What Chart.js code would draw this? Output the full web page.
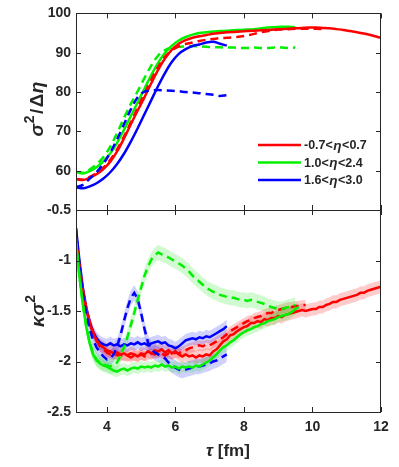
<!DOCTYPE html>
<html><head><meta charset="utf-8">
<script src="https://cdn.jsdelivr.net/npm/chart.js@4.4.1/dist/chart.umd.min.js"></script>
<style>
html,body{margin:0;padding:0;background:#fff;}
#wrap{position:relative;width:399px;height:467px;overflow:hidden;}
canvas{position:absolute;left:0;top:0;}
</style></head>
<body><div id="wrap"><canvas id="cTop" width="399" height="467"></canvas><canvas id="cBot" width="399" height="467"></canvas></div>
<script>
// ---------- DATA ----------
const legendLabels = ['-0.7<η<0.7', '1.0<η<2.4', '1.6<η<3.0'];

// Top panel: sigma^2 / Delta eta
const tauTop = [3.1,3.3,3.5,3.7,3.9,4.1,4.3,4.5,4.7,4.9,5.1,5.3,5.5,5.7,5.9,6.1,6.3,6.5,6.7,6.9,7.1,7.3,7.5,7.7,7.9,8.1,8.3,8.5,8.7,8.9,9.1,9.3,9.5,9.7,9.9,10.1,10.3,10.5,10.7,10.9,11.1,11.3,11.5,11.7,11.9,12.0];
const sigRedSolid = [57.9,57.6,58.2,59.1,60.4,62.3,64.9,68.2,71.8,75.3,78.7,82.3,85.7,88.6,90.8,92.3,93.2,93.8,94.2,94.5,94.8,95.0,95.2,95.3,95.4,95.5,95.6,95.7,95.8,95.9,96.0,96.1,96.2,96.3,96.4,96.4,96.3,96.2,96.0,95.8,95.5,95.2,94.9,94.5,94.0,93.8];
const sigRedDash = [57.9,57.7,58.4,59.4,60.8,62.8,65.4,68.7,72.3,76.0,79.6,83.2,86.4,89.0,90.6,91.6,92.2,92.6,93.0,93.3,93.5,93.7,93.8,93.9,94.1,94.4,94.8,95.2,95.5,95.8,95.9,96.0,96.1,96.1,96.1,96.1,96.0];
const sigGreenSolid = [59.7,59.3,59.9,60.9,62.4,64.4,67.1,70.4,73.9,77.4,80.9,84.4,87.5,90.0,91.8,93.1,94.0,94.6,95.0,95.2,95.4,95.5,95.6,95.7,95.8,95.9,96.0,96.2,96.4,96.5,96.6,96.6,96.5];
const sigGreenDash = [59.7,59.5,60.3,61.6,63.5,66.1,69.6,73.4,77.0,80.2,83.6,86.8,89.3,90.7,91.3,91.5,91.6,91.7,91.6,91.5,91.4,91.4,91.3,91.3,91.2,91.2,91.3,91.2,91.2,91.3,91.3,91.2,91.3];
const sigBlueSolid = [55.8,55.5,56.0,56.8,58.0,59.6,61.7,64.3,67.4,70.8,74.4,78.0,81.6,84.9,87.7,89.7,90.9,91.7,92.1,92.6,92.8,92.3,91.8];
const sigBlueDash = [55.8,56.4,58.0,59.6,61.8,64.6,68.0,71.8,75.6,78.7,80.1,80.4,80.5,80.4,80.3,80.2,80.0,79.9,79.7,79.5,79.3,79.0,79.2];

// Bottom panel: kappa sigma^2
const tau = [3.1,3.2,3.3,3.4,3.5,3.6,3.7,3.8,3.9,4.0,4.1,4.2,4.3,4.4,4.5,4.6,4.7,4.8,4.9,5.0,5.1,5.2,5.3,5.4,5.5,5.6,5.7,5.8,5.9,6.0,6.1,6.2,6.3,6.4,6.5,6.6,6.7,6.8,6.9,7.0,7.1,7.2,7.3,7.4,7.5,7.6,7.7,7.8,7.9,8.0,8.1,8.2,8.3,8.4,8.5,8.6,8.7,8.8,8.9,9.0,9.1,9.2,9.3,9.4,9.5,9.6,9.7,9.8,9.9,10.0,10.1,10.2,10.3,10.4,10.5,10.6,10.7,10.8,10.9,11.0,11.1,11.2,11.3,11.4,11.5,11.6,11.7,11.8,11.9,12.0];
const kapRedSolid = [-0.78,-1.06,-1.30,-1.48,-1.62,-1.72,-1.79,-1.84,-1.86,
 -1.89,-1.90,-1.92,-1.91,-1.93,-1.92,-1.94,-1.92,-1.93,-1.95,
 -1.92,-1.93,-1.90,-1.92,-1.89,-1.90,-1.88,-1.91,-1.89,-1.92,
 -1.90,-1.93,-1.95,-1.93,-1.95,-1.94,-1.96,-1.94,-1.95,-1.93,
 -1.94,-1.90,-1.88,-1.84,-1.80,-1.78,-1.74,-1.73,-1.70,-1.68,
 -1.66,-1.65,-1.62,-1.62,-1.60,-1.61,-1.58,-1.59,-1.57,-1.57,
 -1.55,-1.56,-1.54,-1.53,-1.52,-1.51,-1.50,-1.49,-1.50,-1.49,
 -1.48,-1.48,-1.46,-1.46,-1.44,-1.43,-1.41,-1.41,-1.39,-1.38,
 -1.37,-1.36,-1.35,-1.34,-1.32,-1.32,-1.30,-1.29,-1.28,-1.27,
 -1.26];
const kapRedDash = [-0.78,-1.05,-1.29,-1.47,-1.61,-1.71,-1.79,-1.85,-1.88,
 -1.91,-1.93,-1.92,-1.94,-1.93,-1.95,-1.94,-1.96,-1.94,-1.95,
 -1.93,-1.95,-1.94,-1.92,-1.93,-1.91,-1.92,-1.94,-1.92,-1.93,
 -1.91,-1.92,-1.90,-1.89,-1.87,-1.86,-1.85,-1.84,-1.85,-1.83,
 -1.84,-1.82,-1.80,-1.78,-1.76,-1.73,-1.70,-1.68,-1.66,-1.64,
 -1.62,-1.60,-1.59,-1.57,-1.56,-1.55,-1.53,-1.52,-1.52,-1.50,
 -1.49,-1.48,-1.47,-1.46,-1.46,-1.45,-1.45,-1.44,-1.44];
const kapGreenSolid = [-0.81,-1.16,-1.44,-1.66,-1.82,-1.93,-1.99,-2.02,-2.04,
 -2.05,-2.07,-2.09,-2.10,-2.08,-2.07,-2.09,-2.07,-2.06,-2.07,
 -2.05,-2.06,-2.05,-2.06,-2.04,-2.05,-2.03,-2.05,-2.04,-2.06,
 -2.05,-2.07,-2.05,-2.06,-2.05,-2.06,-2.04,-2.05,-2.03,-2.01,
 -1.99,-1.96,-1.93,-1.89,-1.86,-1.84,-1.81,-1.79,-1.76,-1.73,
 -1.71,-1.69,-1.68,-1.66,-1.65,-1.63,-1.62,-1.60,-1.59,-1.58,
 -1.56,-1.55,-1.54,-1.53,-1.51,-1.48,-1.46];
const kapGreenDash = [-0.81,-1.15,-1.43,-1.65,-1.81,-1.92,-1.98,-2.01,-2.03,
 -2.04,-2.05,-2.04,-2.01,-1.94,-1.86,-1.76,-1.64,-1.52,-1.39,
 -1.27,-1.15,-1.06,-0.99,-0.95,-0.92,-0.94,-0.95,-0.97,-0.99,
 -1.01,-1.03,-1.05,-1.08,-1.11,-1.15,-1.18,-1.21,-1.24,-1.27,
 -1.29,-1.31,-1.32,-1.34,-1.35,-1.36,-1.37,-1.37,-1.38,-1.39,
 -1.39,-1.40,-1.39,-1.40,-1.41,-1.42,-1.43,-1.45,-1.46,-1.47,
 -1.48,-1.48,-1.47,-1.46,-1.45,-1.44];
const kapBlueSolid = [-0.68,-1.00,-1.27,-1.47,-1.61,-1.71,-1.77,-1.81,-1.83,
 -1.84,-1.82,-1.84,-1.83,-1.85,-1.83,-1.84,-1.82,-1.83,-1.81,
 -1.83,-1.82,-1.84,-1.82,-1.81,-1.80,-1.82,-1.81,-1.84,-1.85,
 -1.87,-1.85,-1.82,-1.79,-1.78,-1.77,-1.78,-1.76,-1.77,-1.75,
 -1.76,-1.74,-1.72,-1.70,-1.68,-1.65];
const kapBlueDash = [-0.68,-1.05,-1.33,-1.53,-1.68,-1.79,-1.86,-1.91,-1.95,
 -1.98,-1.97,-1.93,-1.85,-1.74,-1.60,-1.47,-1.37,-1.32,-1.38,
 -1.52,-1.68,-1.81,-1.88,-1.91,-1.93,-1.95,-1.97,-2.01,-2.04,
 -2.06,-2.08,-2.09,-2.08,-2.07,-2.06,-2.05,-2.05,-2.04,-2.03,
 -2.02,-2.00,-1.99,-1.97,-1.95,-1.93];
// band half-widths (uncertainty) per series
const errRedSolid = 0.065, errRedDash = 0.05, errGreenSolid = 0.055, errGreenDash = 0.075, errBlueSolid = 0.065, errBlueDash = 0.075;

// ---------- STYLE ----------
const RED = '#ff0000', GREEN = '#00f000', BLUE = '#0000ff';
const BAND = {r:'rgba(255,0,0,0.2)', g:'rgba(0,230,0,0.18)', b:'rgba(0,0,255,0.18)'};
const FONT = "'Liberation Sans', Arial, Helvetica, sans-serif";
const TXT = '#262626';
const DASH = [8, 5];
const LW = 2.5;

function pts(xs, ys, off) { return ys.map((v, i) => ({x: xs[i], y: v + (off || 0)})); }

function lineDS(xs, ys, color, dashed, smooth) {
  return {data: pts(xs, ys), borderColor: color, borderWidth: LW, borderDash: dashed ? DASH : [],
    pointRadius: 0, fill: false, tension: 0, cubicInterpolationMode: smooth ? 'monotone' : 'default', order: 0};
}

// ---------- PLUGINS ----------
const framePlugin = {
  id: 'frame',
  afterDraw(chart) {
    const {ctx, chartArea: a, scales} = chart;
    ctx.save();
    ctx.strokeStyle = TXT; ctx.lineWidth = 1;
    ctx.strokeRect(Math.round(a.left) + 0.5, Math.round(a.top) + 0.5, Math.round(a.right - a.left) - 1, Math.round(a.bottom - a.top));
    ctx.beginPath();
    scales.x.ticks.forEach(t => {
      const px = Math.round(scales.x.getPixelForValue(t.value)) + 0.5;
      ctx.moveTo(px, a.bottom); ctx.lineTo(px, a.bottom - 5);
      ctx.moveTo(px, a.top); ctx.lineTo(px, a.top + 5);
    });
    scales.y.ticks.forEach(t => {
      const py = Math.round(scales.y.getPixelForValue(t.value)) + 0.5;
      ctx.moveTo(a.left, py); ctx.lineTo(a.left + 5, py);
      ctx.moveTo(a.right, py); ctx.lineTo(a.right - 5, py);
    });
    ctx.stroke();
    ctx.restore();
  }
};

function drawRuns(ctx, runs, cx, cy, rot) {
  ctx.save();
  ctx.translate(cx, cy); ctx.rotate(rot);
  ctx.fillStyle = TXT; ctx.textBaseline = 'alphabetic'; ctx.textAlign = 'left';
  let total = 0;
  runs.forEach(r => { ctx.font = r.font; r.w = ctx.measureText(r.t).width + (r.gap || 0); total += r.w; });
  let x = -total / 2;
  runs.forEach(r => { ctx.font = r.font; ctx.fillText(r.t, x, r.dy || 0); x += r.w; });
  ctx.restore();
}

const topDeco = {
  id: 'topDeco',
  afterDraw(chart) {
    const ctx = chart.ctx;
    drawRuns(ctx, [
      {t: 'σ', font: `italic bold 19px ${FONT}`, gap: 0.5},
      {t: '2', font: `bold 14px ${FONT}`, dy: -9, gap: 1.5},
      {t: '/', font: `bold 19px ${FONT}`, gap: 1.5},
      {t: 'Δ', font: `bold 19px ${FONT}`, gap: 0.5},
      {t: 'η', font: `italic bold 19px ${FONT}`}
    ], 43, 109, -Math.PI / 2);
    const colors = [RED, GREEN, BLUE];
    legendLabels.forEach((lab, i) => {
      const y = 145 + i * 17.5;
      ctx.save();
      ctx.strokeStyle = colors[i]; ctx.lineWidth = LW;
      ctx.beginPath(); ctx.moveTo(258, y); ctx.lineTo(301, y); ctx.stroke();
      ctx.restore();
      const parts = lab.split('η');
      let x = 304;
      ctx.save();
      ctx.fillStyle = TXT; ctx.textBaseline = 'middle'; ctx.textAlign = 'left';
      ctx.font = `bold 12.5px ${FONT}`;
      ctx.fillText(parts[0], x, y + 1); x += ctx.measureText(parts[0]).width + 0.5;
      ctx.font = `italic bold 13.5px ${FONT}`;
      ctx.fillText('η', x, y + 1); x += ctx.measureText('η').width + 0.5;
      ctx.font = `bold 12.5px ${FONT}`;
      ctx.fillText(parts[1], x, y + 1);
      ctx.restore();
    });
  }
};

const botDeco = {
  id: 'botDeco',
  afterDraw(chart) {
    const ctx = chart.ctx;
    drawRuns(ctx, [
      {t: 'κ', font: `italic bold 19px ${FONT}`, gap: 0.5},
      {t: 'σ', font: `italic bold 19px ${FONT}`, gap: 0.5},
      {t: '2', font: `bold 14px ${FONT}`, dy: -9}
    ], 44, 311, -Math.PI / 2);
    drawRuns(ctx, [
      {t: 'τ', font: `italic bold 17px ${FONT}`, gap: 0},
      {t: ' [fm]', font: `bold 17px ${FONT}`}
    ], 228, 456, 0);
  }
};

const tickFont = {family: FONT, size: 14, weight: 'bold'};

// ---------- TOP CHART ----------
new Chart(document.getElementById('cTop'), {
  type: 'line',
  data: {datasets: [
    lineDS(tauTop, sigBlueDash, BLUE, true, true),
    lineDS(tauTop, sigBlueSolid, BLUE, false, true),
    lineDS(tauTop, sigRedDash, RED, true, true),
    lineDS(tauTop, sigRedSolid, RED, false, true),
    lineDS(tauTop, sigGreenDash, GREEN, true, true),
    lineDS(tauTop, sigGreenSolid, GREEN, false, true)
  ]},
  options: {
    responsive: false, animation: false, events: [],
    layout: {padding: {left: 0, right: 18, top: 9, bottom: 257}},
    plugins: {legend: {display: false}, tooltip: {enabled: false}},
    scales: {
      x: {type: 'linear', min: 3.1, max: 12,
        ticks: {display: false, stepSize: 2, includeBounds: false},
        grid: {display: false, drawTicks: false}, border: {display: false},
        afterFit: s => { s.height = 0; }},
      y: {min: 50, max: 100,
        ticks: {stepSize: 10, font: tickFont, color: TXT, padding: 5,
          callback: v => (v === 50 ? null : String(v))},
        grid: {display: false, drawTicks: false}, border: {display: false},
        afterFit: s => { s.width = 76; }}
    }
  },
  plugins: [framePlugin, topDeco]
});

// ---------- BOTTOM CHART ----------
function bandDS(xs, ys, err, color) {
  return [
    {data: pts(xs, ys, -err), borderWidth: 0, pointRadius: 0, fill: false, order: 10, tension: 0},
    {data: pts(xs, ys, err), borderWidth: 0, pointRadius: 0, fill: '-1', backgroundColor: color, order: 10, tension: 0}
  ];
}
new Chart(document.getElementById('cBot'), {
  type: 'line',
  data: {datasets: [
    ...bandDS(tau, kapGreenDash, errGreenDash, BAND.g),
    ...bandDS(tau, kapGreenSolid, errGreenSolid, BAND.g),
    ...bandDS(tau, kapBlueDash, errBlueDash, BAND.b),
    ...bandDS(tau, kapBlueSolid, errBlueSolid, BAND.b),
    ...bandDS(tau, kapRedDash, errRedDash, BAND.r),
    ...bandDS(tau, kapRedSolid, errRedSolid, BAND.r),
    lineDS(tau, kapGreenDash, GREEN, true, false),
    lineDS(tau, kapGreenSolid, GREEN, false, false),
    lineDS(tau, kapBlueDash, BLUE, true, false),
    lineDS(tau, kapRedDash, RED, true, false),
    lineDS(tau, kapRedSolid, RED, false, false),
    lineDS(tau, kapBlueSolid, BLUE, false, false)
  ]},
  options: {
    responsive: false, animation: false, events: [],
    layout: {padding: {left: 0, right: 18, top: 210, bottom: 0}},
    plugins: {legend: {display: false}, tooltip: {enabled: false}},
    scales: {
      x: {type: 'linear', min: 3.1, max: 12,
        ticks: {stepSize: 2, includeBounds: false, font: tickFont, color: TXT, padding: 7, maxRotation: 0,
          callback: v => String(v)},
        grid: {display: false, drawTicks: false}, border: {display: false},
        afterFit: s => { s.height = 55; }},
      y: {min: -2.5, max: -0.5,
        ticks: {stepSize: 0.5, font: tickFont, color: TXT, padding: 5, callback: v => String(v)},
        grid: {display: false, drawTicks: false}, border: {display: false},
        afterFit: s => { s.width = 76; }}
    }
  },
  plugins: [framePlugin, botDeco]
});
</script>
</body></html>
